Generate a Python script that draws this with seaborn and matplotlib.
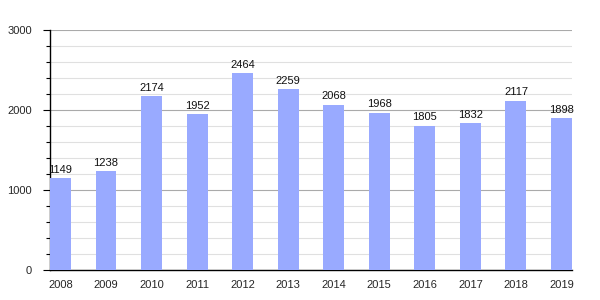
import numpy as np
import pandas as pd
import matplotlib
matplotlib.use("Agg")
import matplotlib.pyplot as plt
import seaborn as sns
from matplotlib.ticker import MultipleLocator

# Datos
years = ['2008', '2009', '2010', '2011', '2012', '2013', '2014', '2015', '2016', '2017', '2018', '2019']
values = [1149, 1238, 2174, 1952, 2464, 2259, 2068, 1968, 1805, 1832, 2117, 1898]

df = pd.DataFrame({'year': years, 'value': values})

sns.set_theme(style="white")
plt.rcParams['font.family'] = ['Liberation Sans', 'DejaVu Sans']

fig = plt.figure(figsize=(6, 3), dpi=100)
ax = fig.add_axes([0.0833, 0.1, 0.87, 0.8])

sns.barplot(data=df, x='year', y='value', color='#99aaff', saturation=1,
            width=0.46, linewidth=0, ax=ax, zorder=3)

# Etiquetas sobre las barras
for i, v in enumerate(values):
    ax.text(i, v + 40, str(v), ha='center', va='bottom', fontsize=8, color='#111111', zorder=4)

ax.set_ylim(0, 3000)
ax.set_xlim(-0.23, 11.23)
ax.yaxis.set_major_locator(MultipleLocator(1000))
ax.yaxis.set_minor_locator(MultipleLocator(200))
ax.grid(which='major', axis='y', color='#aaaaaa', linewidth=0.8, zorder=0)
ax.grid(which='minor', axis='y', color='#e0e0e0', linewidth=0.8, zorder=0)
ax.set_axisbelow(True)

for side in ['top', 'right']:
    ax.spines[side].set_visible(False)
for side in ['left', 'bottom']:
    ax.spines[side].set_color('black')
    ax.spines[side].set_linewidth(1)

ax.tick_params(axis='y', which='major', left=True, length=5, width=0.8, color='black',
               labelsize=8, pad=8)
ax.tick_params(axis='y', which='minor', left=True, length=3, width=0.8, color='black')
ax.tick_params(axis='x', bottom=False, labelsize=8, pad=1)
ax.set_xlabel('')
ax.set_ylabel('')

fig.savefig('out.png', dpi=100)
